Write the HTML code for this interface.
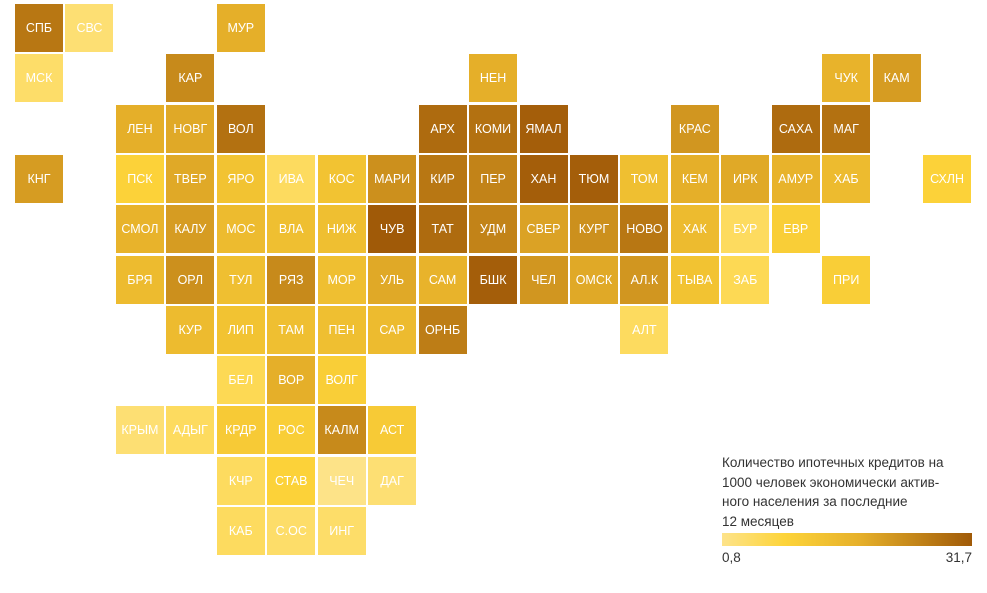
<!DOCTYPE html>
<html><head><meta charset="utf-8"><style>
body{margin:0;background:#fff;width:987px;height:593px;overflow:hidden;font-family:"Liberation Sans","DejaVu Sans",sans-serif;}
.t{position:absolute;width:48px;height:48px;color:#fff;font-size:12.5px;display:flex;align-items:center;justify-content:center;}
#legend{position:absolute;left:722px;top:453px;width:265px;font-size:13.5px;line-height:19.6px;color:#333;white-space:nowrap;}
#bar{position:absolute;left:722px;top:533px;width:250px;height:13px;background:linear-gradient(to right,#fde38a 0%,#fdd43a 25%,#e6b02a 55%,#a05a08 100%);}
.lab{position:absolute;top:550px;font-size:13.5px;color:#333;}
</style></head><body>
<div id="map"></div>
<div id="legend">Количество ипотечных кредитов на<br>1000 человек экономически актив-<br>ного населения за последние<br>12 месяцев</div>
<div id="bar"></div>
<div class="lab" style="left:722px">0,8</div>
<div class="lab" style="right:15px">31,7</div>
<script>
const regions=["СПБ","СВС","МУР","МСК","КАР","НЕН","ЧУК","КАМ","ЛЕН","НОВГ","ВОЛ","АРХ","КОМИ","ЯМАЛ","КРАС","САХА","МАГ","КНГ","ПСК","ТВЕР","ЯРО","ИВА","КОС","МАРИ","КИР","ПЕР","ХАН","ТЮМ","ТОМ","КЕМ","ИРК","АМУР","ХАБ","СХЛН","СМОЛ","КАЛУ","МОС","ВЛА","НИЖ","ЧУВ","ТАТ","УДМ","СВЕР","КУРГ","НОВО","ХАК","БУР","ЕВР","БРЯ","ОРЛ","ТУЛ","РЯЗ","МОР","УЛЬ","САМ","БШК","ЧЕЛ","ОМСК","АЛ.К","ТЫВА","ЗАБ","ПРИ","КУР","ЛИП","ТАМ","ПЕН","САР","ОРНБ","АЛТ","БЕЛ","ВОР","ВОЛГ","КРЫМ","АДЫГ","КРДР","РОС","КАЛМ","АСТ","КЧР","СТАВ","ЧЕЧ","ДАГ","КАБ","С.ОС","ИНГ"];
const cols=[0,1,4,0,3,9,16,17,2,3,4,8,9,10,13,15,16,0,2,3,4,5,6,7,8,9,10,11,12,13,14,15,16,18,2,3,4,5,6,7,8,9,10,11,12,13,14,15,2,3,4,5,6,7,8,9,10,11,12,13,14,16,3,4,5,6,7,8,12,4,5,6,2,3,4,5,6,7,4,5,6,7,4,5,6];
const rows=[0,0,0,1,1,1,1,1,2,2,2,2,2,2,2,2,2,3,3,3,3,3,3,3,3,3,3,3,3,3,3,3,3,3,4,4,4,4,4,4,4,4,4,4,4,4,4,4,5,5,5,5,5,5,5,5,5,5,5,5,5,5,6,6,6,6,6,6,6,7,7,7,8,8,8,8,8,8,9,9,9,9,10,10,10];
const values=[27,3,18,4,24,18,17,21,18,19,28,29,28,31,22,29,28,21,9,19,13,5,13,23,27,25,31,31,14,18,19,17,15,9,17,21,15,14,14,31.7,29,25,20,23,27,15,5,10,15,23,14,24,14,19,17,31,22,19,22,13,6,10,15,13,14,14,15,26,5,6,18,10,3,5,11,10,24,11,5,9,1,3,5,4,4];
const vMin=0.8,vMax=31.7;
const stops=[[0,[253,227,138]],[0.25,[253,212,58]],[0.55,[230,176,42]],[1,[160,90,8]]];
function color(v){let t=(v-vMin)/(vMax-vMin);t=Math.max(0,Math.min(1,t));
for(let i=1;i<stops.length;i++){if(t<=stops[i][0]){const a=stops[i-1],b=stops[i];const f=(t-a[0])/(b[0]-a[0]);
return 'rgb('+a[1].map((c,k)=>Math.round(c+(b[1][k]-c)*f)).join(',')+')';}}return 'rgb(160,90,8)';}
const xPos=c=>15+c*50.45, yPos=r=>4+r*50.3;
const map=document.getElementById('map');
regions.forEach((n,i)=>{const d=document.createElement('div');d.className='t';


d.style.left=xPos(cols[i])+'px';d.style.top=yPos(rows[i])+'px';d.style.background=color(values[i]);d.textContent=n;map.appendChild(d);});
</script>
</body></html>
